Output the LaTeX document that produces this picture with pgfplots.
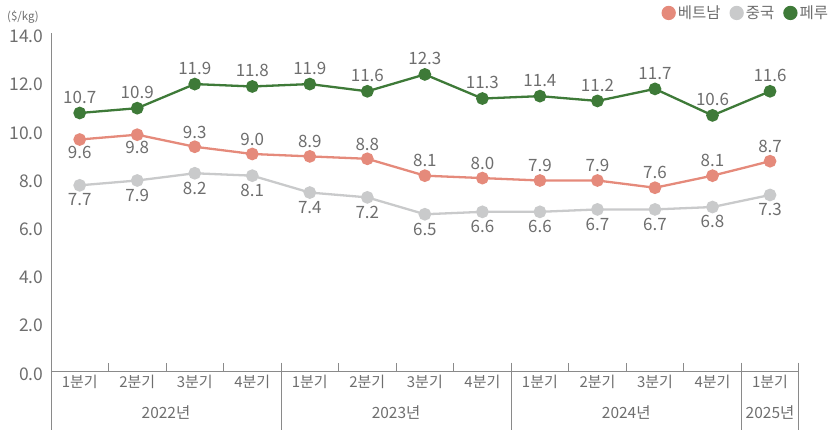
\documentclass[border=0pt]{standalone}
\usepackage{fontspec}
\setmainfont{Noto Sans CJK KR}
\usepackage{pgfplots}
\pgfplotsset{compat=1.18}
\definecolor{viet}{HTML}{E58A7B}
\definecolor{chn}{HTML}{C9CACB}
\definecolor{peru}{HTML}{3E7A38}
\definecolor{axisgray}{HTML}{8A8A8A}
\definecolor{txt}{HTML}{6E6E6E}
\begin{document}
\begin{tikzpicture}[x=1pt,y=1pt]
\begin{axis}[
  at={(0,0)}, anchor=south west,
  scale only axis, width=749pt, height=338pt,
  xmin=-0.5, xmax=12.5, ymin=0, ymax=14,
  clip=false,
  axis lines*=left,
  axis line style={axisgray, line width=0.8pt},
  /pgf/number format/assume math mode=true,
  ytick={0,2,...,14},
  yticklabel style={/pgf/number format/.cd, fixed, fixed zerofill, precision=1, /tikz/.cd, font=\fontsize{17.5}{17.5}\selectfont, text=txt, xshift=-4pt, yshift=-3pt},
  ytick style={draw=none},
  xtick={0,...,12},
  xticklabels={1분기,2분기,3분기,4분기,1분기,2분기,3분기,4분기,1분기,2분기,3분기,4분기,1분기},
  xticklabel style={font=\fontsize{15}{15}\selectfont, text=txt, yshift=-1pt},
  major x tick style={draw=none},
  minor xtick={0.5,1.5,2.5,4.5,5.5,6.5,8.5,9.5,10.5},
  minor tick length=8pt,
  tick align=inside,
  minor x tick style={axisgray, line width=0.8pt},
  every node near coord/.append style={font=\fontsize{17}{17}\selectfont, text=txt},
  nodes near coords={\pgfmathprintnumber[fixed,fixed zerofill,precision=1]{\pgfplotspointmeta}},
  legend style={at={(1.046,1.0607)}, anchor=east, draw=none, fill=none, font=\fontsize{15.5}{15.5}\selectfont, text=txt, legend columns=3, /tikz/every even column/.append style={column sep=7pt}},
  legend image code/.code={\fill[#1] (0pt,0pt) circle (6pt);},
]
% main series
\addplot[viet, line width=2.3pt, mark=*, mark size=5.2pt, mark options={fill=viet, draw=viet}, nodes near coords={}] coordinates {
(0,9.6)(1,9.8)(2,9.3)(3,9.0)(4,8.9)(5,8.8)(6,8.1)(7,8.0)(8,7.9)(9,7.9)(10,7.6)(11,8.1)(12,8.7)};
\addlegendentry{베트남}
\addplot[chn, line width=2.3pt, mark=*, mark size=5.2pt, mark options={fill=chn, draw=chn}, nodes near coords={}] coordinates {
(0,7.7)(1,7.9)(2,8.2)(3,8.1)(4,7.4)(5,7.2)(6,6.5)(7,6.6)(8,6.6)(9,6.7)(10,6.7)(11,6.8)(12,7.3)};
\addlegendentry{중국}
\addplot[peru, line width=2.3pt, mark=*, mark size=5.2pt, mark options={fill=peru, draw=peru}, nodes near coords={}] coordinates {
(0,10.7)(1,10.9)(2,11.9)(3,11.8)(4,11.9)(5,11.6)(6,12.3)(7,11.3)(8,11.4)(9,11.2)(10,11.7)(11,10.6)(12,11.6)};
\addlegendentry{페루}
% labels
\addplot[draw=none, forget plot, point meta=y, nodes near coords align={above}, every node near coord/.append style={yshift=6pt}] coordinates {
(0,10.7)(1,10.9)(2,11.9)(3,11.8)(4,11.9)(5,11.6)(6,12.3)(7,11.3)(8,11.4)(9,11.2)(10,11.7)(11,10.6)(12,11.6)};
\addplot[draw=none, forget plot, point meta=y, nodes near coords align={above}, every node near coord/.append style={yshift=5pt}] coordinates {
(2,9.3)(3,9.0)(4,8.9)(5,8.8)(6,8.1)(7,8.0)(8,7.9)(9,7.9)(10,7.6)(11,8.1)(12,8.7)};
\addplot[draw=none, forget plot, point meta=y, nodes near coords align={below}, every node near coord/.append style={yshift=-3pt}] coordinates {
(0,9.6)(1,9.8)};
\addplot[draw=none, forget plot, point meta=y, nodes near coords align={below}, every node near coord/.append style={yshift=-5pt}] coordinates {
(0,7.7)(1,7.9)(2,8.2)(3,8.1)(4,7.4)(5,7.2)(6,6.5)(7,6.6)(8,6.6)(9,6.7)(10,6.7)(11,6.8)(12,7.3)};
% separators
\foreach \s in {-0.5,3.5,7.5,11.5,12.5} {
  \edef\tmp{\noexpand\draw[axisgray, line width=0.8pt] (axis cs:\s,0.35) -- ([yshift=-59pt]axis cs:\s,0);}
  \tmp
}
\node[font=\fontsize{15.5}{15.5}\selectfont, text=txt] at ([yshift=-41.5pt]axis cs:1.5,0) {2022년};
\node[font=\fontsize{15.5}{15.5}\selectfont, text=txt] at ([yshift=-41.5pt]axis cs:5.5,0) {2023년};
\node[font=\fontsize{15.5}{15.5}\selectfont, text=txt] at ([yshift=-41.5pt]axis cs:9.5,0) {2024년};
\node[font=\fontsize{15.5}{15.5}\selectfont, text=txt] at ([yshift=-41.5pt]axis cs:12,0) {2025년};
\node[anchor=west, inner sep=0pt, font=\fontsize{11.5}{11.5}\selectfont, text=txt] at (axis description cs:-0.0587,1.049) {(\$/kg)};
\end{axis}
\path[use as bounding box] (-51pt,-58.5pt) rectangle (782pt,371.5pt);
\end{tikzpicture}
\end{document}
